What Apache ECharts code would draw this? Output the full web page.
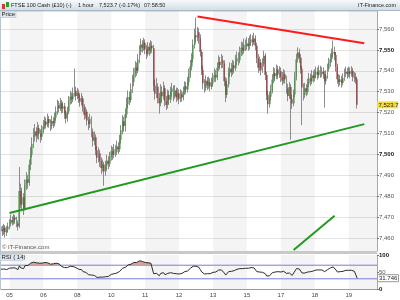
<!DOCTYPE html>
<html><head><meta charset="utf-8">
<script src="https://cdn.jsdelivr.net/npm/echarts@6/dist/echarts.min.js"></script>
<style>html,body{margin:0;padding:0;background:#fff}#c{width:400px;height:300px}</style>
</head><body><div id="c"></div>
<script>
// ---- data: hourly candles [open, close, low, high], one array per day ----
const dayLabels = ['04','05','06','08','10','11','12','13','15','17','18','19'];
const d04 = [[7465.5,7464.5,7462.0,7467.0],[7464.5,7463.2,7461.0,7466.0],[7463.2,7465.0,7461.5,7466.8],[7465.0,7462.8,7460.2,7466.2],[7462.8,7464.0,7461.0,7465.8],[7464.0,7465.5,7462.6,7467.4]];
const d05 = [[7465.5,7466.8,7464.2,7469.0],[7466.8,7468.5,7465.5,7471.2],[7468.5,7467.6,7466.0,7470.4],[7467.6,7469.8,7466.4,7471.5],[7469.8,7468.9,7466.8,7471.0],[7468.9,7467.0,7465.2,7470.2],[7467.0,7465.6,7463.6,7468.4],[7465.6,7482.5,7464.8,7494.0],[7482.5,7476.0,7474.2,7486.0],[7476.0,7479.5,7472.8,7484.0],[7479.5,7474.0,7471.0,7481.5],[7474.0,7485.5,7473.2,7488.0],[7485.5,7488.0,7483.0,7491.5],[7488.0,7486.4,7483.6,7490.2],[7486.4,7495.0,7485.0,7497.6],[7495.0,7500.0,7492.5,7503.5],[7500.0,7505.0,7498.6,7508.2],[7505.0,7508.5,7503.0,7512.5],[7508.5,7511.0,7506.2,7514.6],[7511.0,7509.0,7505.8,7513.0],[7509.0,7512.5,7507.4,7515.5],[7512.5,7510.0,7507.0,7514.2],[7510.0,7508.5,7505.6,7512.0],[7508.5,7511.5,7506.8,7514.0]];
const d06 = [[7511.5,7513.5,7510.0,7516.4],[7513.5,7515.8,7512.0,7518.2],[7515.8,7514.2,7512.4,7517.6],[7514.2,7516.9,7513.0,7519.5],[7516.9,7515.0,7512.8,7518.4],[7515.0,7513.6,7511.2,7516.8],[7513.6,7516.0,7512.0,7518.6],[7516.0,7514.8,7512.6,7517.8],[7514.8,7517.5,7513.4,7520.0],[7517.5,7520.6,7516.2,7523.0],[7520.6,7523.4,7519.0,7526.2],[7523.4,7522.0,7520.0,7525.6],[7522.0,7524.5,7520.8,7527.0],[7524.5,7521.8,7519.6,7526.0],[7521.8,7523.0,7519.8,7525.2],[7523.0,7519.4,7517.0,7524.6],[7519.4,7517.2,7514.8,7521.0],[7517.2,7520.5,7515.6,7522.8],[7520.5,7525.8,7519.2,7528.0],[7525.8,7527.6,7523.8,7530.4],[7527.6,7526.4,7524.2,7529.6],[7526.4,7529.2,7525.0,7532.0],[7529.2,7530.5,7527.6,7541.0],[7530.5,7528.0,7525.8,7532.4]];
const d08 = [[7528.0,7529.5,7526.4,7531.8],[7529.5,7527.0,7524.6,7531.0],[7527.0,7525.2,7522.8,7528.6],[7525.2,7526.8,7523.4,7529.4],[7526.8,7522.5,7520.4,7528.0],[7522.5,7519.0,7516.6,7524.0],[7519.0,7520.4,7517.2,7522.8],[7520.4,7516.2,7513.8,7521.6],[7516.2,7514.5,7511.6,7518.0],[7514.5,7517.0,7512.6,7519.4],[7517.0,7510.8,7508.2,7518.2],[7510.8,7506.5,7503.8,7512.4],[7506.5,7508.2,7504.4,7511.0],[7508.2,7502.0,7499.6,7509.6],[7502.0,7498.4,7495.8,7504.0],[7498.4,7500.6,7496.2,7503.4],[7500.6,7496.8,7494.0,7502.2],[7496.8,7493.5,7490.6,7498.6],[7493.5,7495.2,7491.8,7497.6],[7495.2,7491.8,7485.0,7496.4],[7491.8,7494.6,7489.8,7497.0],[7494.6,7497.0,7492.6,7499.8],[7497.0,7495.5,7493.0,7499.2],[7495.5,7498.8,7494.0,7501.2]];
const d10 = [[7498.8,7501.5,7497.0,7504.2],[7501.5,7499.8,7497.4,7503.6],[7499.8,7502.6,7498.2,7505.0],[7502.6,7501.0,7498.8,7504.4],[7501.0,7503.8,7499.6,7506.6],[7503.8,7502.5,7500.2,7505.8],[7502.5,7507.0,7501.2,7509.4],[7507.0,7511.5,7505.2,7514.0],[7511.5,7515.8,7509.6,7518.8],[7515.8,7513.6,7510.8,7518.0],[7513.6,7519.2,7511.0,7522.0],[7519.2,7524.0,7517.4,7527.2],[7524.0,7527.5,7522.0,7530.6],[7527.5,7526.0,7523.6,7530.0],[7526.0,7531.2,7524.8,7534.0],[7531.2,7534.8,7529.4,7538.0],[7534.8,7538.5,7532.6,7541.4],[7538.5,7541.6,7536.8,7544.6],[7541.6,7540.0,7537.6,7544.0],[7540.0,7545.4,7538.8,7548.0],[7545.4,7549.0,7543.6,7552.2],[7549.0,7552.6,7547.4,7555.4],[7552.6,7551.0,7548.8,7554.6],[7551.0,7553.4,7549.6,7555.8]];
const d11 = [[7553.4,7550.2,7548.0,7555.0],[7550.2,7548.0,7545.6,7552.4],[7548.0,7551.5,7546.8,7553.8],[7551.5,7549.6,7547.2,7553.4],[7549.6,7552.0,7548.0,7554.6],[7552.0,7550.8,7548.6,7554.0],[7550.8,7533.0,7530.2,7552.4],[7533.0,7529.0,7526.2,7535.8],[7529.0,7532.4,7527.0,7536.6],[7532.4,7527.0,7524.4,7534.0],[7527.0,7524.5,7519.5,7529.4],[7524.5,7530.0,7523.0,7533.6],[7530.0,7527.8,7525.0,7532.6],[7527.8,7531.6,7526.2,7534.8],[7531.6,7525.5,7523.0,7533.0],[7525.5,7523.6,7521.2,7528.0],[7523.6,7528.4,7522.0,7531.0],[7528.4,7526.2,7523.8,7530.6],[7526.2,7529.8,7524.6,7532.4],[7529.8,7531.5,7527.6,7534.2],[7531.5,7528.0,7525.4,7533.0],[7528.0,7530.6,7526.6,7533.2],[7530.6,7527.4,7525.0,7532.0],[7527.4,7529.2,7525.8,7531.8]];
const d12 = [[7529.2,7526.4,7524.0,7531.0],[7526.4,7528.8,7525.0,7531.2],[7528.8,7527.2,7525.2,7530.6],[7527.2,7530.0,7525.8,7532.4],[7530.0,7532.6,7528.4,7535.0],[7532.6,7531.0,7529.0,7534.6],[7531.0,7534.5,7529.6,7537.0],[7534.5,7538.2,7533.0,7541.0],[7538.2,7542.0,7536.6,7545.2],[7542.0,7545.5,7540.2,7548.4],[7545.5,7552.4,7544.0,7555.0],[7552.4,7557.0,7550.6,7560.2],[7557.0,7556.0,7553.6,7565.5],[7556.0,7558.4,7554.2,7561.0],[7558.4,7555.6,7553.0,7560.4],[7555.6,7549.0,7546.8,7557.4],[7549.0,7540.5,7538.0,7550.2],[7540.5,7534.0,7531.2,7542.4],[7534.0,7531.8,7529.6,7536.0],[7531.8,7535.2,7530.4,7537.8],[7535.2,7533.0,7530.8,7537.0],[7533.0,7534.6,7531.4,7537.2],[7534.6,7532.5,7530.2,7536.4],[7532.5,7534.0,7531.0,7536.8]];
const d13 = [[7534.0,7536.4,7532.4,7539.0],[7536.4,7538.0,7534.8,7541.2],[7538.0,7536.8,7534.6,7540.4],[7536.8,7541.5,7535.6,7544.0],[7541.5,7544.2,7539.8,7547.4],[7544.2,7542.8,7540.6,7546.6],[7542.8,7545.0,7541.2,7548.0],[7545.0,7543.6,7541.4,7547.2],[7543.6,7535.0,7532.6,7545.0],[7535.0,7528.5,7525.0,7537.0],[7528.5,7533.6,7527.0,7536.4],[7533.6,7538.8,7532.0,7541.6],[7538.8,7541.0,7537.2,7544.0],[7541.0,7539.4,7537.0,7543.8],[7539.4,7542.6,7538.0,7545.2],[7542.6,7541.2,7538.8,7544.8],[7541.2,7544.5,7540.0,7547.6],[7544.5,7546.0,7542.8,7549.2],[7546.0,7545.0,7542.6,7548.8],[7545.0,7548.8,7543.6,7551.6],[7548.8,7551.0,7547.0,7554.0],[7551.0,7549.6,7547.4,7553.6],[7549.6,7552.4,7548.2,7555.4],[7552.4,7551.6,7549.4,7555.0]];
const d15 = [[7551.6,7553.0,7550.0,7556.2],[7553.0,7551.8,7549.6,7555.6],[7551.8,7553.6,7550.2,7556.8],[7553.6,7555.0,7552.0,7557.6],[7555.0,7553.8,7551.6,7557.0],[7553.8,7555.4,7552.4,7558.2],[7555.4,7552.0,7549.8,7557.0],[7552.0,7546.0,7543.6,7553.4],[7546.0,7541.5,7539.0,7548.0],[7541.5,7544.0,7540.0,7546.8],[7544.0,7540.2,7537.8,7545.6],[7540.2,7543.5,7539.0,7546.0],[7543.5,7547.2,7542.0,7549.6],[7547.2,7538.0,7535.6,7548.4],[7538.0,7528.5,7526.0,7539.6],[7528.5,7524.0,7519.5,7530.4],[7524.0,7527.6,7522.4,7530.0],[7527.6,7530.5,7525.8,7533.4],[7530.5,7535.8,7529.2,7538.4],[7535.8,7539.0,7534.0,7541.8],[7539.0,7537.4,7535.0,7541.2],[7537.4,7540.6,7536.0,7543.0],[7540.6,7538.2,7536.0,7542.4],[7538.2,7539.8,7536.6,7542.2]];
const d17 = [[7539.8,7537.0,7534.6,7541.6],[7537.0,7535.2,7533.0,7539.4],[7535.2,7538.4,7534.0,7540.8],[7538.4,7536.0,7533.8,7540.2],[7536.0,7531.5,7529.0,7537.6],[7531.5,7528.0,7525.4,7533.8],[7528.0,7532.2,7526.6,7534.6],[7532.2,7526.5,7507.0,7533.6],[7526.5,7524.4,7521.8,7528.4],[7524.4,7528.6,7523.0,7531.0],[7528.6,7537.0,7527.2,7539.6],[7537.0,7545.5,7535.4,7548.2],[7545.5,7548.8,7544.0,7551.2],[7548.8,7546.2,7543.8,7550.6],[7546.2,7541.0,7538.6,7548.0],[7541.0,7532.0,7514.0,7542.4],[7532.0,7528.4,7525.8,7534.0],[7528.4,7531.6,7527.0,7534.2],[7531.6,7530.0,7527.8,7533.6],[7530.0,7533.8,7528.6,7536.2],[7533.8,7536.4,7532.2,7539.0],[7536.4,7535.0,7532.8,7538.6],[7535.0,7537.8,7533.6,7540.4],[7537.8,7536.6,7534.4,7540.0]];
const d18 = [[7536.6,7538.2,7535.0,7540.8],[7538.2,7539.6,7536.4,7542.0],[7539.6,7538.0,7535.8,7541.6],[7538.0,7540.2,7536.6,7542.6],[7540.2,7538.8,7536.6,7542.4],[7538.8,7539.5,7537.0,7541.8],[7539.5,7538.4,7536.2,7541.6],[7538.4,7535.0,7522.4,7540.0],[7535.0,7537.6,7533.4,7540.2],[7537.6,7541.0,7536.2,7543.4],[7541.0,7543.8,7539.6,7546.2],[7543.8,7545.6,7542.0,7548.2],[7545.6,7548.2,7544.0,7550.6],[7548.2,7549.0,7546.4,7554.5],[7549.0,7547.5,7545.0,7551.6],[7547.5,7542.0,7539.6,7549.0],[7542.0,7536.0,7533.8,7543.4],[7536.0,7534.6,7532.2,7538.4],[7534.6,7535.8,7533.0,7538.0],[7535.8,7534.2,7532.0,7537.6],[7534.2,7536.5,7533.0,7538.8],[7536.5,7538.8,7535.2,7541.0],[7538.8,7539.6,7537.0,7542.0],[7539.6,7538.4,7536.2,7541.4]];
const d19 = [[7538.4,7539.8,7537.0,7542.0],[7539.8,7538.6,7536.4,7541.6],[7538.6,7540.0,7537.2,7542.2],[7540.0,7537.2,7535.0,7541.4],[7537.2,7536.8,7534.6,7539.4],[7536.8,7536.0,7533.8,7539.0],[7536.0,7523.7,7522.0,7537.2]];

// ---- RSI(14) values, one array per day ----
const rsi04 = [58,56,59,55,57,59];
const rsi05 = [61,63,62,64,62,59,57,68,62,65,60,69,71,69,74,76,78,79,80,77,79,76,74,76];
const rsi06 = [77,78,76,77,75,73,75,74,75,76,77,74,70,66,67,63,60,63,66,67,65,66,67,63];
const rsi08 = [64,58,55,57,51,47,49,44,42,46,41,37,40,36,34,37,35,33,35,33,36,38,37,41];
const rsi10 = [43,41,45,43,47,46,52,57,61,58,64,68,71,69,73,76,78,80,78,81,83,84,81,82];
const rsi11 = [78,75,77,75,76,74,45,41,46,41,39,46,44,48,42,40,46,44,48,49,46,48,45,47];
const rsi12 = [44,47,46,49,51,49,53,57,61,64,67,69,67,68,64,57,50,45,44,47,45,47,45,47];
const rsi13 = [49,51,50,54,56,55,56,55,47,41,46,51,53,52,55,54,57,58,57,60,62,60,62,61];
const rsi15 = [62,61,62,63,61,62,57,51,47,50,46,49,53,45,38,35,39,42,48,51,50,53,51,52];
const rsi17 = [50,48,52,50,46,43,47,42,40,45,53,60,62,59,54,47,44,47,46,50,52,51,54,53];
const rsi18 = [54,56,54,56,55,56,55,51,54,57,60,62,64,65,62,56,50,49,51,49,52,54,55,54];
const rsi19 = [55,54,55,52,52,51,31.746];

// trend lines drawn on the chart: [candle index, price]
const resistance = [[139, 7566.0], [257, 7553.2]];
const support = [[6, 7472.0], [257, 7514.5]];
const shortSupport = [[207, 7454.3], [236, 7470.7]];
const lastPrice = 7523.7;
const lastRsi = 31.746;
const rsiBands = [70, 30];
const totalSlots = 267;

// ---- build categories ----
const ohlcByDay = [d04,d05,d06,d08,d10,d11,d12,d13,d15,d17,d18,d19];
const rsiByDay = [rsi04,rsi05,rsi06,rsi08,rsi10,rsi11,rsi12,rsi13,rsi15,rsi17,rsi18,rsi19];
const categories = [], ohlc = [], rsi = [], dayStart = [];
const pad = n => String(n).padStart(2,'0');
dayLabels.forEach((d,k) => {
  const rows = ohlcByDay[k];
  const h0 = k === 0 ? 24 - rows.length : 0;
  dayStart.push(categories.length);
  rows.forEach((r,j) => { categories.push(d + ' ' + pad(h0 + j) + ':00'); ohlc.push(r); rsi.push(rsiByDay[k][j]); });
});
const lastDay = dayLabels[dayLabels.length-1];
let hh = ohlcByDay[ohlcByDay.length-1].length;
while (categories.length < totalSlots) { categories.push(lastDay + ' ' + pad(hh++) + ':00'); ohlc.push('-'); rsi.push('-'); }
const lastCat = categories[categories.length-1];

const makeBands = () => {
  const out = [];
  for (let k = 1; k < dayLabels.length; k += 2) {
    const s = dayStart[k];
    const e = (k + 1 < dayStart.length) ? dayStart[k+1] : categories.length - 1;
    out.push([{xAxis: categories[s]}, {xAxis: categories[e]}]);
  }
  return out;
};
const fmt = v => { const p = String(v).split('.'); p[0] = p[0].replace(/\B(?=(\d{3})+(?!\d))/g, ','); return p.join('.'); };
const trend = (pts, color) => ({type:'line', xAxisIndex:0, yAxisIndex:0, silent:true, showSymbol:false, z:6,
  data: pts.map(p => [categories[p[0]], p[1]]), lineStyle:{color, width:2, type:'solid'}});
const hline = (v) => ({type:'line', xAxisIndex:1, yAxisIndex:1, silent:true, showSymbol:false, z:2,
  data: [[categories[0], v], [lastCat, v]], lineStyle:{color:'#7a7adf', width:1, type:'solid'}});

const FONT = 'Liberation Sans';
const chart = echarts.init(document.getElementById('c'), null, {renderer:'canvas'});
chart.setOption({
  animation: false,
  textStyle: {fontFamily: FONT},
  grid: [
    {left:1, right:23, top:11, height:240},
    {left:1, right:23, top:255, height:34}
  ],
  xAxis: [
    {gridIndex:0, type:'category', data:categories, boundaryGap:false, axisLine:{show:false}, axisTick:{show:false}, axisLabel:{show:false}, splitLine:{show:false}},
    {gridIndex:1, type:'category', data:categories, boundaryGap:false, axisLine:{show:true, lineStyle:{color:'#9a9a9a'}}, axisTick:{show:false},
     axisLabel:{fontSize:6, color:'#444', margin:3, interval:(i,v) => v.endsWith(' 00:00'), formatter: v => v.slice(0,2)}, splitLine:{show:false}}
  ],
  yAxis: [
    {gridIndex:0, type:'value', position:'right', min:7453.8, max:7568.6, minInterval:10, maxInterval:10,
     axisLine:{show:true, lineStyle:{color:'#a8a8a8'}}, axisTick:{show:true, length:2, lineStyle:{color:'#777'}},
     axisLabel:{fontSize:6, color:'#555', margin:2, showMinLabel:false, showMaxLabel:false,
       formatter: v => (v % 50 === 0 ? '{b|' + fmt(v) + '}' : fmt(v)), rich:{b:{fontSize:6, fontWeight:'bold', color:'#111'}}},
     splitLine:{show:true, lineStyle:{color:'#e3e3e3', width:1}}},
    {gridIndex:1, type:'value', position:'right', min:0, max:100, interval:50,
     axisLine:{show:true, lineStyle:{color:'#a8a8a8'}}, axisTick:{show:true, length:2, lineStyle:{color:'#777'}},
     axisLabel:{fontSize:6, color:'#555', margin:2, formatter: v => (v === 50 ? String(v) : '{b|' + v + '}'), rich:{b:{fontSize:6, fontWeight:'bold', color:'#111'}}},
     splitLine:{show:false}}
  ],
  visualMap: [{type:'piecewise', show:false, seriesIndex:3, dimension:1,
    pieces:[{gt:70, lte:100, color:'#cf9a9a'}, {gte:0, lte:70, color:'rgba(255,255,255,0)'}],
    outOfRange:{color:'rgba(255,255,255,0)'}}],
  series: [
    {type:'candlestick', name:'wick', xAxisIndex:0, yAxisIndex:0, data:ohlc, barWidth:0.4, silent:true,
     itemStyle:{color:'#8c8c8c', color0:'#8c8c8c', borderColor:'#8c8c8c', borderColor0:'#8c8c8c', borderWidth:1},
     markArea:{silent:true, itemStyle:{color:'rgba(0,0,0,0.045)'}, data:makeBands()}},
    {type:'candlestick', name:'body', xAxisIndex:0, yAxisIndex:0, data:ohlc, barWidth:1.4, silent:true,
     itemStyle:{color:'#2e8b2e', color0:'#8b1f1f', borderColor:'rgba(0,0,0,0)', borderColor0:'rgba(0,0,0,0)', borderWidth:0}},
    {type:'line', name:'RSI', xAxisIndex:1, yAxisIndex:1, data:rsi, showSymbol:false, silent:true, z:4,
     lineStyle:{color:'#2a2a2a', width:1},
     markArea:{silent:true, itemStyle:{color:'rgba(0,0,0,0.045)'}, data:makeBands()}},
    {type:'line', name:'RSI fill', xAxisIndex:1, yAxisIndex:1, data:rsi, showSymbol:false, silent:true, z:3,
     lineStyle:{width:0, opacity:0}, areaStyle:{origin:70, opacity:0.9}},
    trend(resistance, '#ff1a1a'), trend(support, '#1f9a1f'), trend(shortSupport, '#1f9a1f'),
    ...rsiBands.map(hline)
  ]
});

// value tags on the right axes, positioned through the axis scales
const yPrice = chart.convertToPixel({yAxisIndex:0}, lastPrice);
const yRsi = chart.convertToPixel({yAxisIndex:1}, lastRsi);
const txt = (x, y, text, extra, z) => ({type:'text', z: z || 101, x, y, style:Object.assign({text, fontSize:6, fontFamily:FONT, fill:'#222', verticalAlign:'middle'}, extra || {})});
const H = {fontSize:5.5};
chart.setOption({graphic: [
  {type:'rect', z:100, shape:{x:0, y:0, width:400, height:10}, style:{fill:new echarts.graphic.LinearGradient(0,0,0,1,[{offset:0,color:'#f7f9fb'},{offset:1,color:'#d3dee9'}])}},
  {type:'rect', z:100, shape:{x:0, y:10, width:400, height:1}, style:{fill:'#a9b8c7'}},
  {type:'rect', z:101, shape:{x:2, y:4, width:3, height:5}, style:{fill:'#d23a3a'}},
  {type:'rect', z:101, shape:{x:6, y:2, width:3, height:5}, style:{fill:'#2e9b2e'}},
  txt(11, 5.5, 'FTSE 100 Cash (£10) (-)', H),
  txt(78, 5.5, '1 hour', H),
  txt(99, 5.5, fmt(lastPrice.toFixed(1)) + ' (-0.17%)', H),
  txt(144, 5.5, '07:58:50', H),
  txt(396, 5.5, 'IT-Finance.com', {fontSize:5.5, align:'right'}),
  {type:'rect', z:101, shape:{x:0, y:11, width:16, height:6.5}, style:{fill:'#dde6ee', stroke:'#a9b8c7', lineWidth:0.5}},
  txt(1.5, 14.4, 'Price', {}, 103),
  txt(2, 247, '© IT-Finance.com', {fill:'#555'}),
  {type:'rect', z:100, shape:{x:0, y:251, width:377, height:3}, style:{fill:'#c9c9c9'}},
  {type:'rect', z:101, shape:{x:0, y:254.5, width:23, height:6}, style:{fill:'#dde6ee', stroke:'#a9b8c7', lineWidth:0.5}},
  txt(1.5, 257.6, 'RSI ( 14)', {}, 103),
  {type:'rect', z:100, shape:{x:0, y:10, width:1, height:280}, style:{fill:'#b9c5d1'}},
  {type:'rect', z:102, shape:{x:377, y:yPrice - 3.5, width:21, height:7}, style:{fill:'#f3dc3c'}},
  txt(378.5, yPrice, fmt(lastPrice.toFixed(1)), {}, 103),
  {type:'rect', z:102, shape:{x:377.5, y:yRsi - 3.5, width:21, height:7}, style:{fill:'#fff', stroke:'#999', lineWidth:1}},
  txt(379, yRsi, String(lastRsi), {}, 103)
]});
</script></body></html>
